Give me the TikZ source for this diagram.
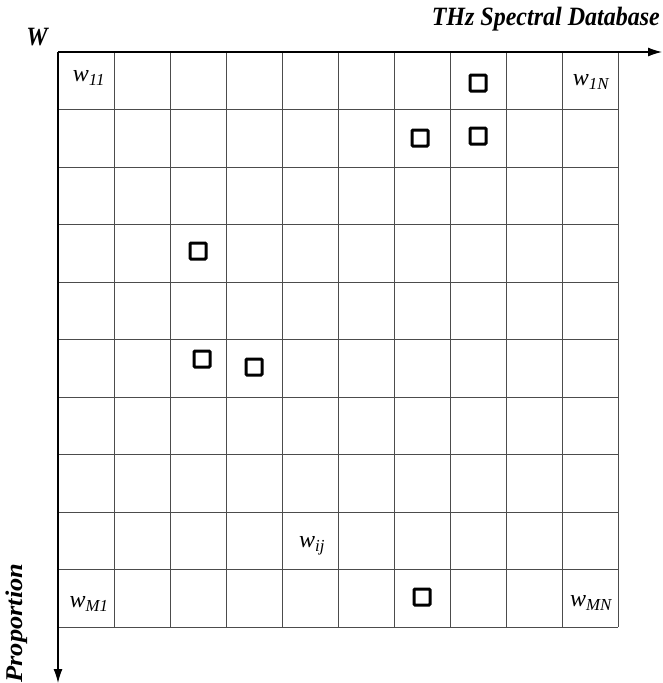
\documentclass[tikz,border=0pt]{standalone}
\usepackage{fontspec}
\setmainfont{Liberation Serif}
\usetikzlibrary{arrows.meta}
\begin{document}
\begin{tikzpicture}[x=1pt,y=-1pt,
  gridline/.style={draw=black!70,line width=0.6pt},
  axis/.style={draw=black,line width=1.2pt,-{Latex[length=14pt,width=9pt]}},
  marker/.style={draw=black,line width=3pt,minimum size=16pt,inner sep=0pt,rounded corners=1pt},
  cell/.style={font=\itshape\fontsize{24}{28}\selectfont,inner sep=0pt},
  title/.style={font=\bfseries\itshape\fontsize{24}{28}\selectfont,inner sep=0pt}]
\useasboundingbox (0,0) rectangle (662,683);
% grid
\foreach \i in {0,...,10} {
  \draw[gridline] ({58+56*\i},52) -- ({58+56*\i},627);
  \draw[gridline] (58,{52+57.5*\i}) -- (618,{52+57.5*\i});
}
% axes
\coordinate (o) at (58,52);
\coordinate (xend) at (662,52);
\coordinate (yend) at (58,683);
\draw[axis] (o) -- (xend);
\draw[axis] (o) -- (yend);
% titles
\node[title,anchor=east,yscale=1.1] (db) at (660,19) {THz Spectral Database};
\node[title,yscale=1.1] (W) at (37,37) {W};
\node[title,rotate=90,xscale=1.1] (prop) at (17,623) {Proportion};
% cell labels
\node[cell] (w11) at (89,78) {w\textsubscript{11}};
\node[cell] (w1N) at (591,82) {w\textsubscript{1N}};
\node[cell] (wM1) at (89,604) {w\textsubscript{M1}};
\node[cell] (wMN) at (591,603) {w\textsubscript{MN}};
\node[cell] (wij) at (312,546) {w\textsubscript{ij}};
% markers
\node[marker] (m1) at (478,83) {};
\node[marker] (m2) at (420,138) {};
\node[marker] (m3) at (478,136) {};
\node[marker] (m4) at (198,251) {};
\node[marker] (m5) at (202,359) {};
\node[marker] (m6) at (254,367) {};
\node[marker] (m7) at (422,597) {};
\end{tikzpicture}
\end{document}
